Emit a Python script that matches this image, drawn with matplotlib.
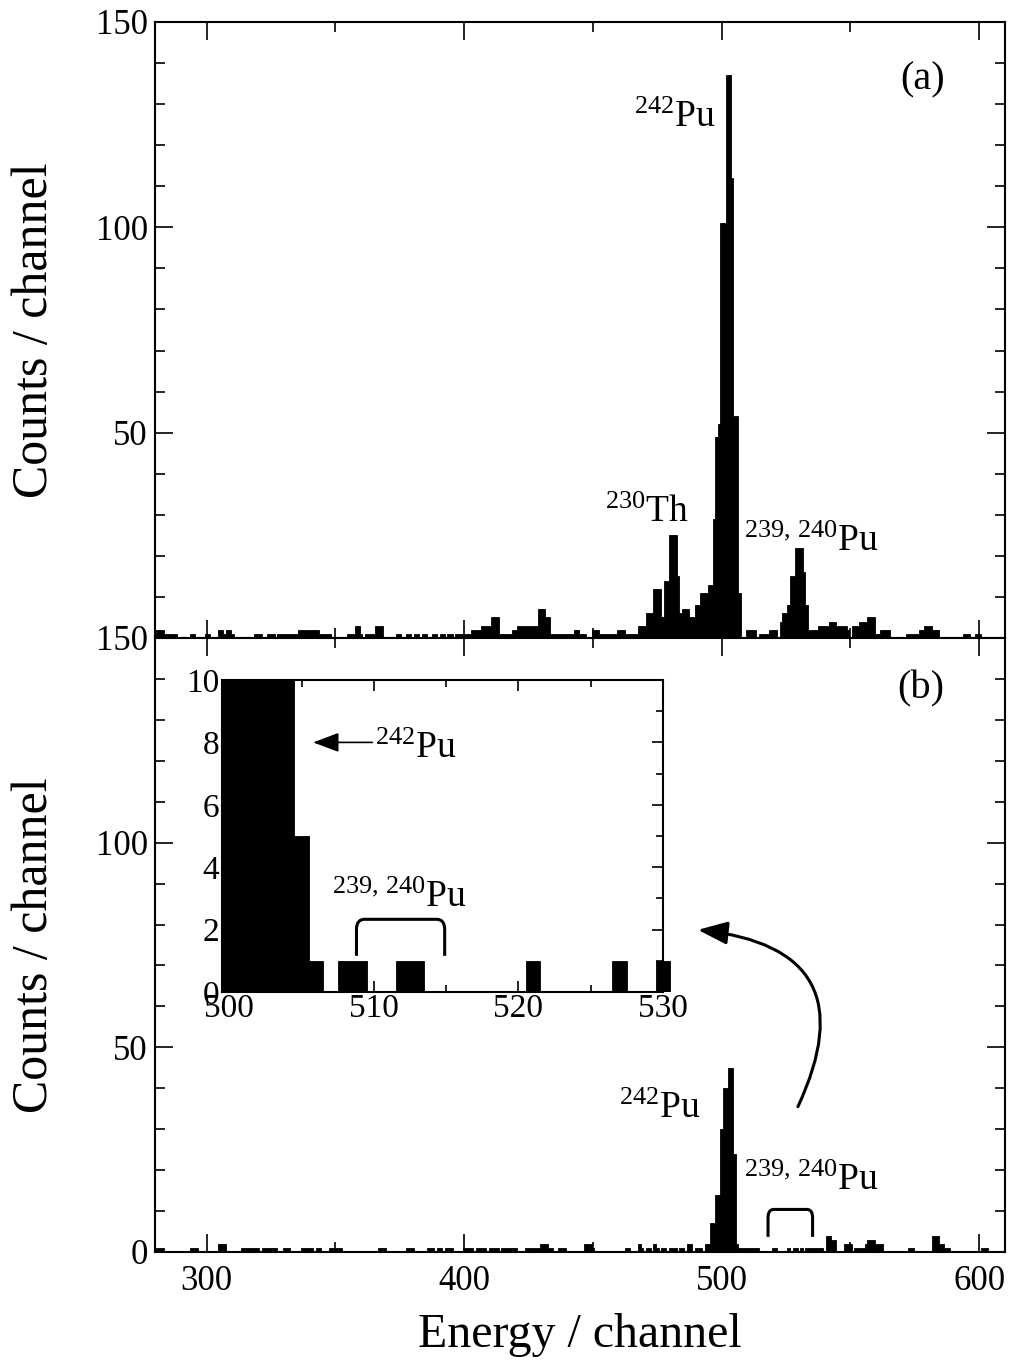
import matplotlib
matplotlib.use("Agg")
import matplotlib.pyplot as plt
from matplotlib.patches import PathPatch, Rectangle
from matplotlib.path import Path
from matplotlib.ticker import MultipleLocator

plt.rcParams['font.family'] = ['Liberation Serif', 'DejaVu Serif']
plt.rcParams['mathtext.fontset'] = 'custom'
plt.rcParams['mathtext.rm'] = 'Liberation Serif'
plt.rcParams['mathtext.it'] = 'Liberation Serif:italic'
plt.rcParams['mathtext.bf'] = 'Liberation Serif:bold'

# ---------------- data ----------------
first_channel = 280
last_channel = 609

# panel (a): counts per channel, 280 ... 609 (rows of 10)
counts_a = [
    0, 2, 2, 2, 1, 1, 1, 1, 1, 0,          # 280
    0, 0, 0, 0, 1, 1, 0, 0, 0, 0,          # 290
    1, 1, 0, 0, 0, 2, 2, 1, 2, 2,          # 300
    1, 0, 0, 0, 0, 0, 0, 0, 0, 1,          # 310
    1, 1, 0, 0, 1, 1, 1, 0, 1, 1,          # 320
    1, 1, 1, 1, 1, 1, 2, 2, 2, 2,          # 330
    2, 2, 2, 2, 1, 1, 1, 1, 1, 0,          # 340
    0, 0, 0, 0, 0, 1, 1, 1, 3, 3,          # 350
    1, 0, 1, 1, 1, 1, 3, 3, 3, 0,          # 360
    0, 0, 0, 0, 1, 1, 0, 0, 1, 1,          # 370
    0, 1, 1, 0, 1, 1, 0, 0, 1, 1,          # 380
    0, 1, 1, 0, 1, 1, 0, 1, 1, 1,          # 390
    1, 1, 1, 2, 2, 2, 2, 3, 3, 3,          # 400
    3, 5, 5, 5, 1, 1, 1, 1, 1, 2,          # 410
    2, 3, 3, 3, 3, 3, 3, 3, 3, 7,          # 420
    7, 7, 5, 5, 1, 1, 1, 1, 1, 1,          # 430
    1, 1, 1, 2, 2, 1, 1, 1, 0, 0,          # 440
    2, 2, 2, 1, 1, 1, 1, 1, 1, 1,          # 450
    2, 2, 2, 1, 1, 1, 1, 1, 3, 3,          # 460
    3, 6, 6, 6, 12, 12, 12, 5, 14, 14,     # 470
    25, 25, 25, 15, 6, 7, 7, 7, 5, 5,      # 480
    8, 8, 11, 11, 11, 13, 13, 29, 49, 52,  # 490
    101, 101, 137, 137, 112, 54, 54, 11, 0, 0,  # 500
    2, 2, 2, 2, 0, 1, 1, 1, 1, 2,          # 510
    2, 2, 0, 4, 6, 6, 8, 15, 15, 22,       # 520
    22, 22, 16, 8, 2, 2, 2, 2, 3, 3,       # 530
    3, 3, 4, 4, 4, 3, 3, 3, 3, 2,          # 540
    0, 3, 3, 3, 4, 4, 4, 5, 5, 5,          # 550
    1, 1, 2, 2, 2, 2, 0, 0, 0, 0,          # 560
    0, 0, 1, 1, 1, 1, 1, 2, 2, 3,          # 570
    3, 3, 2, 2, 2, 0, 0, 0, 0, 0,          # 580
    0, 0, 0, 0, 1, 1, 1, 0, 0, 1,          # 590
    1, 0, 0, 0, 0, 0, 0, 0, 0, 0,          # 600
]

# panel (b): counts per channel, 280 ... 609
counts_b = [
    0, 1, 1, 1, 0, 0, 0, 0, 0, 0,          # 280
    0, 0, 0, 0, 1, 1, 1, 0, 0, 0,          # 290
    0, 0, 0, 0, 0, 2, 2, 2, 0, 0,          # 300
    0, 0, 0, 0, 1, 1, 1, 1, 1, 1,          # 310
    1, 0, 1, 1, 1, 1, 1, 1, 0, 0,          # 320
    1, 1, 1, 0, 0, 0, 0, 1, 1, 1,          # 330
    1, 1, 0, 1, 1, 0, 0, 0, 1, 1,          # 340
    1, 1, 1, 0, 0, 0, 0, 0, 0, 0,          # 350
    0, 0, 0, 0, 0, 0, 0, 1, 1, 1,          # 360
    0, 0, 0, 0, 0, 0, 0, 0, 1, 1,          # 370
    1, 0, 0, 0, 0, 0, 1, 1, 1, 0,          # 380
    1, 1, 0, 1, 1, 1, 0, 0, 0, 0,          # 390
    1, 1, 1, 1, 0, 1, 1, 1, 1, 0,          # 400
    1, 1, 1, 1, 0, 1, 1, 1, 1, 1,          # 410
    1, 0, 0, 0, 1, 1, 1, 1, 1, 1,          # 420
    2, 2, 2, 1, 1, 0, 0, 1, 1, 1,          # 430
    0, 0, 0, 0, 0, 0, 0, 2, 2, 2,          # 440
    1, 0, 0, 0, 0, 0, 0, 0, 0, 0,          # 450
    0, 0, 0, 1, 1, 0, 0, 0, 2, 1,          # 460
    0, 1, 1, 0, 2, 1, 0, 1, 1, 0,          # 470
    1, 1, 1, 0, 1, 1, 0, 2, 2, 0,          # 480
    1, 1, 1, 0, 2, 2, 7, 7, 14, 14,        # 490
    30, 40, 40, 45, 45, 24, 2, 1, 1, 1,    # 500
    1, 1, 1, 1, 1, 0, 0, 0, 0, 0,          # 510
    1, 1, 0, 0, 0, 0, 1, 0, 1, 1,          # 520
    0, 1, 0, 1, 1, 1, 1, 1, 1, 1,          # 530
    0, 4, 4, 3, 3, 0, 0, 0, 2, 2,          # 540
    2, 0, 1, 1, 1, 1, 2, 3, 3, 3,          # 550
    2, 2, 2, 0, 0, 0, 0, 0, 0, 0,          # 560
    0, 0, 0, 1, 1, 0, 0, 0, 0, 0,          # 570
    0, 0, 4, 4, 4, 2, 2, 1, 1, 0,          # 580
    0, 0, 0, 0, 0, 0, 0, 0, 0, 0,          # 590
    0, 1, 1, 1, 0, 0, 0, 0, 0, 0,          # 600
]

# inset of panel (b): channels 500 ... 530
inset_channels = list(range(500, 531))
inset_counts = [
    30, 40, 45, 45, 24, 5, 1, 0, 1, 1,     # 500
    0, 0, 1, 1, 0, 0, 0, 0, 0, 0,          # 510
    0, 1, 0, 0, 0, 0, 0, 1, 0, 0,          # 520
    1,                                     # 530
]

channels = list(range(first_channel, last_channel + 1))
x_ticks = [300, 400, 500, 600]
y_ticks = [0, 50, 100, 150]
inset_x_ticks = [500, 510, 520, 530]
inset_y_ticks = [0, 2, 4, 6, 8, 10]

# ---------------- figure ----------------
W, H = 1013, 1367
fig = plt.figure(figsize=(W / 100, H / 100), dpi=100)

def fbox(left, top, right, bottom):
    return [left / W, 1 - bottom / H, (right - left) / W, (bottom - top) / H]

axa = fig.add_axes(fbox(155, 22, 1005, 638))
axb = fig.add_axes(fbox(155, 638, 1005, 1252))
axi = fig.add_axes(fbox(222, 680, 663, 992))
axi.set_zorder(5)

def edges_of(ch):
    return [c - 0.5 for c in ch] + [ch[-1] + 0.5]

TICK_FS = 25
YLABEL_FS = 36
XLABEL_FS = 34.5
ANN_FS = 27
PANEL_FS = 29

for ax, counts in ((axa, counts_a), (axb, counts_b)):
    ax.stairs(counts, edges_of(channels), fill=True, color='black',
              linewidth=0.6, edgecolor='black')
    ax.set_xlim(280, 610)
    ax.set_ylim(0, 150)
    ax.set_xticks(x_ticks)
    ax.xaxis.set_minor_locator(MultipleLocator(50))
    ax.set_yticks(y_ticks)
    ax.yaxis.set_minor_locator(MultipleLocator(10))
    ax.tick_params(which='both', direction='in', top=True, right=True,
                   labelsize=TICK_FS, width=1.2)
    ax.tick_params(which='major', length=13)
    ax.tick_params(which='minor', length=7)
    ax.tick_params(axis='y', pad=5)
    ax.tick_params(axis='x', pad=9)
    for s in ax.spines.values():
        s.set_linewidth(1.5)
    ax.set_ylabel('Counts / channel', fontsize=YLABEL_FS, va='center')
    ax.yaxis.set_label_coords(-0.141, 0.5)

axa.set_yticklabels(['', '50', '100', '150'])
axa.tick_params(axis='x', labelbottom=False)
axb.set_xlabel('Energy / channel', fontsize=XLABEL_FS, va='center')
axb.xaxis.set_label_coords(0.5, -0.135)

# annotations panel (a)
axa.text(497.8, 124.4, r'$^{242}$Pu', fontsize=ANN_FS, ha='right', va='baseline')
axa.text(487.3, 28.2, r'$^{230}$Th', fontsize=ANN_FS, ha='right', va='baseline')
axa.text(508.7, 21.2, r'$^{239,\,240}$Pu', fontsize=ANN_FS, ha='left', va='baseline')
axa.text(0.929, 0.89, '(a)', transform=axa.transAxes, fontsize=PANEL_FS,
         ha='right', va='baseline')

# annotations panel (b)
axb.text(492.0, 32.8, r'$^{242}$Pu', fontsize=ANN_FS, ha='right', va='baseline')
axb.text(508.7, 15.2, r'$^{239,\,240}$Pu', fontsize=ANN_FS, ha='left', va='baseline')
axb.text(0.929, 0.902, '(b)', transform=axb.transAxes, fontsize=PANEL_FS,
         ha='right', va='baseline')


def bracket(ax, x0, x1, yb, yt, rx, ry, lw):
    verts = [(x0, yb), (x0, yt - ry), (x0, yt), (x0 + rx, yt),
             (x1 - rx, yt), (x1, yt), (x1, yt - ry), (x1, yb)]
    codes = [Path.MOVETO, Path.LINETO, Path.CURVE3, Path.CURVE3,
             Path.LINETO, Path.CURVE3, Path.CURVE3, Path.LINETO]
    ax.add_patch(PathPatch(Path(verts, codes), fill=False, lw=lw,
                           edgecolor='black', capstyle='butt',
                           joinstyle='round', zorder=4))

bracket(axb, 518.0, 535.3, 3.7, 10.4, 2.2, 2.0, 2.2)

axb.annotate('', xy=(490.8, 78.7), xytext=(529.6, 35.5),
             arrowprops=dict(arrowstyle='-|>,head_length=0.9,head_width=0.35',
                             mutation_scale=20, lw=2.2, color='black',
                             connectionstyle='arc3,rad=0.7',
                             shrinkA=0, shrinkB=0))

# ---------------- inset ----------------
st = axi.stairs(inset_counts, edges_of(inset_channels), fill=True,
                color='black', linewidth=0.6, edgecolor='black')
st.set_clip_path(Rectangle((0, 0), 1.1, 1, transform=axi.transAxes))
axi.set_xlim(499.5, 530)
axi.set_ylim(0, 10)
axi.set_xticks(inset_x_ticks)
axi.xaxis.set_minor_locator(MultipleLocator(5))
axi.set_yticks(inset_y_ticks)
axi.yaxis.set_minor_locator(MultipleLocator(1))
axi.tick_params(which='both', direction='in', top=True, right=True,
                labelsize=24, width=1.2)
axi.tick_params(which='major', length=8)
axi.tick_params(which='minor', length=5)
axi.tick_params(axis='y', pad=2)
axi.tick_params(axis='x', pad=1)
for s in axi.spines.values():
    s.set_linewidth(1.5)

axi.annotate('', xy=(505.8, 8.0), xytext=(509.9, 8.0),
             arrowprops=dict(arrowstyle='-|>,head_length=0.8,head_width=0.3',
                             mutation_scale=20, lw=1.2, color='black',
                             shrinkA=0, shrinkB=0))
axi.text(510.1, 7.5, r'$^{242}$Pu', fontsize=ANN_FS, ha='left', va='baseline')
axi.text(507.1, 2.73, r'$^{239,\,240}$Pu', fontsize=ANN_FS, ha='left', va='baseline')
bracket(axi, 508.8, 514.9, 1.16, 2.33, 0.55, 0.32, 2.2)

fig.savefig('out.png', dpi=100)
